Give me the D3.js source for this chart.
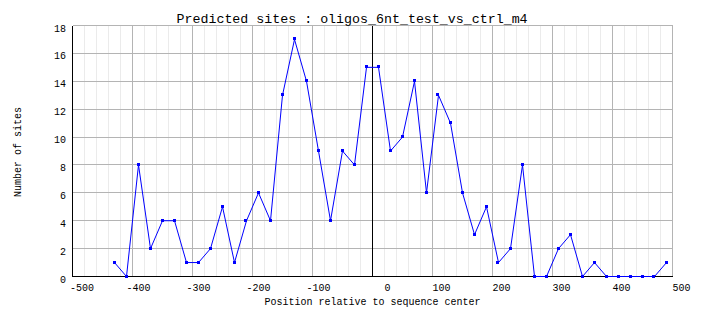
<!DOCTYPE html>
<html>
<head>
<meta charset="utf-8">
<script src="https://cdn.jsdelivr.net/npm/d3@7"></script>
<style>
  html, body { margin: 0; padding: 0; background: #fff; }
  svg { display: block; }
  text { font-family: "Liberation Mono", "DejaVu Sans Mono", monospace; fill: #000; }
</style>
</head>
<body>
<script>
// Site positions (bin centres, bp relative to sequence centre)
const positions = [
  -430, -410, -390, -370, -350, -330, -310, -290, -270, -250, -230, -210,
  -190, -170, -150, -130, -110, -90, -70, -50, -30, -10,
  10, 30, 50, 70, 90, 110, 130, 150, 170, 190, 210, 230, 250,
  270, 290, 310, 330, 350, 370, 390, 410, 430, 450, 470, 490
];
// Number of predicted sites per bin
const siteCounts = [
  1, 0, 8, 2, 4, 4, 1, 1, 2, 5, 1, 4,
  6, 4, 13, 17, 14, 9, 4, 9, 8, 15,
  15, 9, 10, 14, 6, 13, 11, 6, 3, 5, 1, 2, 8,
  0, 0, 2, 3, 0, 1, 0, 0, 0, 0, 0, 1
];
const xTicks = [-500, -400, -300, -200, -100, 0, 100, 200, 300, 400, 500];
const xMinorTicks = d3.range(-480, 500, 20).filter(v => v % 100 !== 0);
const yTicks = [0, 2, 4, 6, 8, 10, 12, 14, 16, 18];

const titleText = "Predicted sites : oligos_6nt_test_vs_ctrl_m4";
const xTitle = "Position relative to sequence center";
const yTitle = "Number of sites";

const W = 704, H = 328;
const plotL = 72.5, plotR = 672.5, plotT = 25.5, plotB = 276.5;

const svg = d3.select("body").append("svg")
  .attr("width", W).attr("height", H);

const x = d3.scaleLinear().domain([-500, 500]).range([plotL, plotR]);
const y = d3.scaleLinear().domain([0, 18]).range([plotB, plotT]);
const snap = v => Math.round(v - 0.5) + 0.5;

// minor vertical grid
svg.append("g").selectAll("line").data(xMinorTicks).join("line")
  .attr("x1", d => snap(x(d))).attr("x2", d => snap(x(d)))
  .attr("y1", plotT).attr("y2", plotB)
  .attr("stroke", "#ebebeb").attr("shape-rendering", "crispEdges");

// major grid
svg.append("g").selectAll("line").data(xTicks).join("line")
  .attr("x1", d => snap(x(d))).attr("x2", d => snap(x(d)))
  .attr("y1", plotT).attr("y2", plotB)
  .attr("stroke", "#b4b4b4").attr("shape-rendering", "crispEdges");
svg.append("g").selectAll("line").data(yTicks).join("line")
  .attr("x1", plotL).attr("x2", plotR)
  .attr("y1", d => snap(y(d))).attr("y2", d => snap(y(d)))
  .attr("stroke", "#b4b4b4").attr("shape-rendering", "crispEdges");

// centre line
svg.append("line")
  .attr("x1", snap(x(0))).attr("x2", snap(x(0))).attr("y1", plotT).attr("y2", plotB)
  .attr("stroke", "#000").attr("shape-rendering", "crispEdges");

// axes (left & bottom black)
svg.append("line").attr("x1", plotL).attr("x2", plotL).attr("y1", plotT).attr("y2", plotB)
  .attr("stroke", "#000").attr("shape-rendering", "crispEdges");
svg.append("line").attr("x1", plotL).attr("x2", plotR).attr("y1", plotB).attr("y2", plotB)
  .attr("stroke", "#000").attr("shape-rendering", "crispEdges");

// x tick labels: right edge a fixed distance past the tick
svg.append("g").attr("font-size", 10)
  .selectAll("text").data(xTicks).join("text")
  .attr("x", d => Math.max(70, x(d) + 18 - String(d).length * 6))
  .attr("y", 291)
  .text(d => d);

// y tick labels
svg.append("g").attr("font-size", 10).attr("text-anchor", "end")
  .selectAll("text").data(yTicks).join("text")
  .attr("x", 66)
  .attr("y", d => y(d) + 6)
  .text(d => d);

// series line and markers
const line = d3.line().x((d, i) => x(positions[i])).y(d => y(d));
svg.append("path").datum(siteCounts)
  .attr("d", line).attr("fill", "none").attr("stroke", "#0000ff").attr("stroke-width", 1);
svg.append("g").selectAll("rect").data(siteCounts).join("rect")
  .attr("x", (d, i) => Math.round(x(positions[i])) - 2)
  .attr("y", d => Math.round(y(d)) - 2)
  .attr("width", 3).attr("height", 3)
  .attr("fill", "#0000ff").attr("shape-rendering", "crispEdges");

// titles
svg.append("text").attr("x", 176.5).attr("y", 23).attr("font-size", 13.3)
  .text(titleText);
svg.append("text").attr("x", (plotL + plotR) / 2).attr("y", 305)
  .attr("text-anchor", "middle").attr("font-size", 10).text(xTitle);
svg.append("text").attr("transform", "translate(21,152) rotate(-90)")
  .attr("text-anchor", "middle").attr("font-size", 10).text(yTitle);
</script>
</body>
</html>
